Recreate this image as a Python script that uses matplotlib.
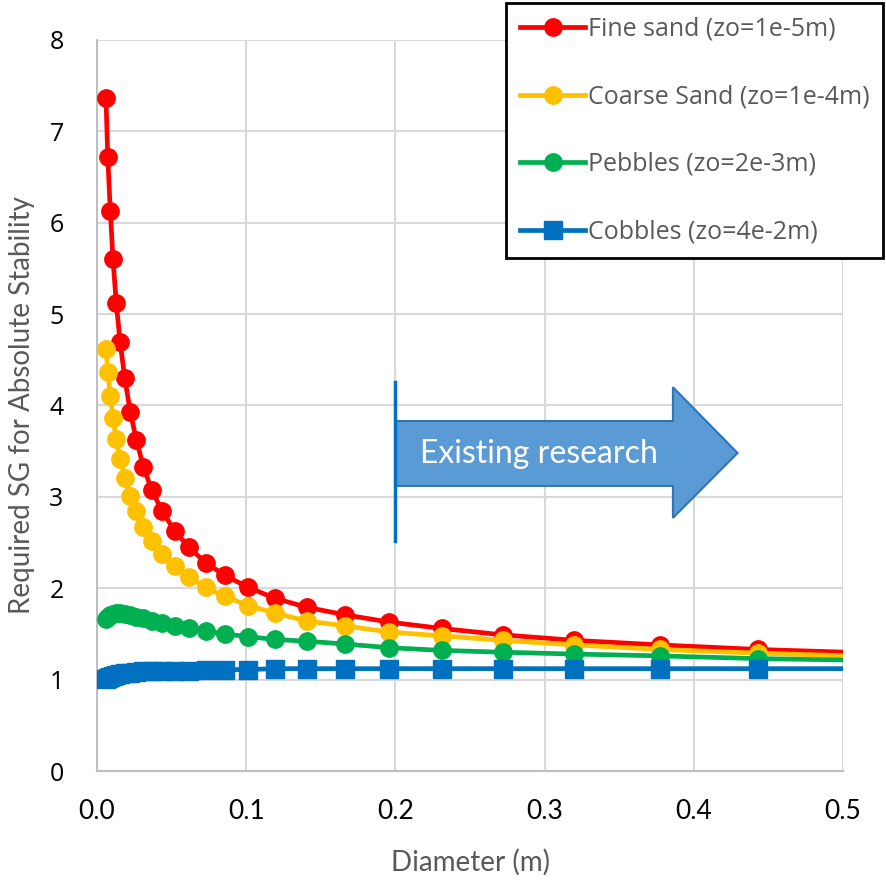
import matplotlib
matplotlib.use("Agg")
import matplotlib.pyplot as plt
from matplotlib.patches import Polygon

# Diameter (m) - shared by every series
diameter = [0.0060, 0.0072, 0.0089, 0.0107, 0.0129, 0.0155, 0.0186, 0.0223,
            0.0264, 0.0311, 0.0368, 0.0438, 0.0520, 0.0615, 0.0728, 0.0858,
            0.1013, 0.1192, 0.1410, 0.1661, 0.1957, 0.2310, 0.2720, 0.3200,
            0.3770, 0.4430, 0.5220]

# Required SG for each bed roughness
fine_sand = [7.36, 6.72, 6.13, 5.60, 5.12, 4.69, 4.30, 3.93, 3.62, 3.33, 3.07,
             2.84, 2.63, 2.45, 2.28, 2.14, 2.01, 1.89, 1.79, 1.71, 1.63, 1.56,
             1.49, 1.43, 1.38, 1.33, 1.29]
coarse_sand = [4.62, 4.37, 4.10, 3.86, 3.63, 3.41, 3.21, 3.01, 2.84, 2.67, 2.52,
               2.37, 2.24, 2.12, 2.01, 1.91, 1.81, 1.73, 1.64, 1.59, 1.52, 1.48,
               1.43, 1.38, 1.33, 1.29, 1.25]
pebbles = [1.66, 1.69, 1.71, 1.72, 1.73, 1.73, 1.72, 1.71, 1.69, 1.67, 1.64,
           1.62, 1.59, 1.56, 1.53, 1.50, 1.47, 1.44, 1.42, 1.39, 1.35, 1.32,
           1.30, 1.28, 1.26, 1.23, 1.21]
cobbles = [1.01, 1.02, 1.03, 1.04, 1.05, 1.06, 1.07, 1.07, 1.08, 1.09, 1.09,
           1.10, 1.10, 1.10, 1.11, 1.11, 1.11, 1.12, 1.12, 1.12, 1.12, 1.12,
           1.12, 1.12, 1.12, 1.12, 1.12]

labels = ["Fine sand (zo=1e-5m)", "Coarse Sand (zo=1e-4m)",
          "Pebbles (zo=2e-3m)", "Cobbles (zo=4e-2m)"]
x_ticks = [0.0, 0.1, 0.2, 0.3, 0.4, 0.5]
x_tick_labels = ["0.0", "0.1", "0.2", "0.3", "0.4", "0.5"]
y_ticks = [0, 1, 2, 3, 4, 5, 6, 7, 8]

GREY_TEXT = "#595959"

fig = plt.figure(figsize=(8.86, 8.84), dpi=100)
ax = fig.add_axes([0.1095, 0.1278, 0.842, 0.827])

# Series
series = [
    (fine_sand, "#ff0000", "o"),
    (coarse_sand, "#ffc000", "o"),
    (pebbles, "#00b050", "o"),
    (cobbles, "#0070c0", "s"),
]
for (values, colour, marker), label in zip(series, labels):
    ax.plot(diameter, values, color=colour, marker=marker, markersize=12.5,
            linewidth=3.4, label=label, zorder=3)

# Block arrow for the existing research range
arrow = Polygon([(0.2, 3.12), (0.386, 3.12), (0.386, 2.77), (0.4293, 3.48),
                 (0.386, 4.20), (0.386, 3.83), (0.2, 3.83)],
                closed=True, facecolor="#5b9bd5", edgecolor="#2e75b6",
                linewidth=1.5, zorder=4)
ax.add_patch(arrow)
ax.plot([0.2, 0.2], [2.52, 4.26], color="#0070c0", linewidth=2.5, zorder=5)
ax.text(0.2165, 3.47, "Existing research", color="white", fontsize=23,
        family="Lato", va="center", ha="left", zorder=6)

# Axes
ax.set_xlim(0, 0.5)
ax.set_ylim(0, 8)
ax.set_xticks(x_ticks)
ax.set_xticklabels(x_tick_labels, family="Lato", fontsize=19)
ax.set_yticks(y_ticks)
ax.set_yticklabels([str(v) for v in y_ticks], family="Open Sans", fontsize=18)
ax.tick_params(axis="both", length=0, colors="black")
ax.tick_params(axis="x", pad=20)
ax.tick_params(axis="y", pad=24)
ax.grid(True, color="#d9d9d9", linewidth=1.5)
ax.set_axisbelow(True)
for side in ("top", "right"):
    ax.spines[side].set_visible(False)
for side in ("left", "bottom"):
    ax.spines[side].set_color("#bfbfbf")
    ax.spines[side].set_linewidth(1.5)

ax.set_xlabel("Diameter (m)", family="Lato", fontsize=20, color=GREY_TEXT,
              labelpad=18)
ax.set_ylabel("Required SG for Absolute Stability", family="Lato", fontsize=20,
              color=GREY_TEXT, labelpad=10)

leg = ax.legend(loc="upper right", bbox_to_anchor=(0.9966, 0.9966),
                bbox_transform=fig.transFigure, fancybox=False,
                edgecolor="black", framealpha=1, handlelength=2.6,
                labelspacing=1.7, borderpad=0.55, handletextpad=0.1,
                borderaxespad=0, prop={"family": "Open Sans", "size": 18})
leg.get_frame().set_linewidth(2)
for text in leg.get_texts():
    text.set_color(GREY_TEXT)
leg.set_zorder(10)

fig.savefig("out.png", dpi=100)
